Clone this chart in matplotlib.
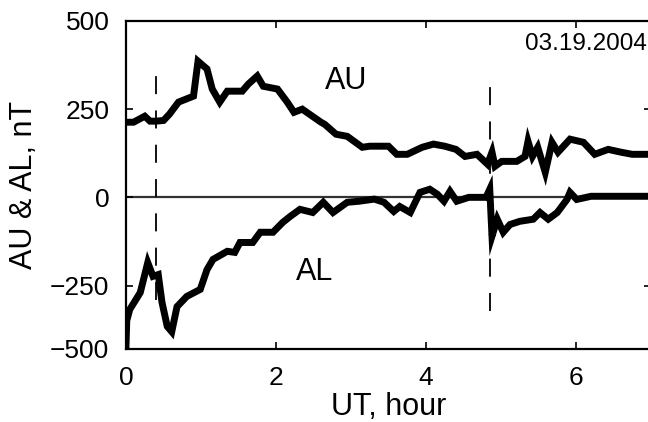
import matplotlib
matplotlib.use("Agg")
import matplotlib.pyplot as plt

plt.rcParams['font.family'] = ['Liberation Sans', 'DejaVu Sans']

# AU index (nT) vs UT (hours)
au_t = [0.00, 0.10, 0.25, 0.32, 0.40, 0.50, 0.58, 0.70, 0.90, 0.96, 1.08, 1.15,
        1.25, 1.35, 1.55, 1.63, 1.75, 1.83, 2.02, 2.15, 2.24, 2.35, 2.60, 2.65,
        2.80, 2.95, 3.15, 3.25, 3.50, 3.61, 3.75, 3.95, 4.10, 4.25, 4.40, 4.52,
        4.68, 4.82, 4.88, 4.92, 5.01, 5.21, 5.32, 5.36, 5.42, 5.49, 5.59, 5.68,
        5.76, 5.92, 6.10, 6.25, 6.43, 6.60, 6.75, 7.00]
au_v = [213, 213, 230, 216, 216, 218, 236, 270, 287, 386, 364, 307, 270, 301,
        301, 321, 344, 315, 307, 270, 241, 250, 213, 207, 179, 173, 142, 145,
        145, 122, 122, 142, 151, 145, 136, 116, 122, 94, 128, 88, 102, 102, 116,
        159, 116, 142, 71, 156, 128, 165, 156, 122, 136, 128, 122, 122]

# AL index (nT)
al_t = [0.00, 0.01, 0.05, 0.19, 0.29, 0.36, 0.43, 0.48, 0.55, 0.61, 0.68, 0.81,
        0.99, 1.08, 1.16, 1.35, 1.45, 1.52, 1.69, 1.79, 1.96, 2.09, 2.19, 2.32,
        2.49, 2.63, 2.76, 2.95, 3.11, 3.31, 3.44, 3.57, 3.65, 3.79, 3.92, 4.05,
        4.15, 4.24, 4.32, 4.41, 4.57, 4.80, 4.85, 4.88, 4.95, 5.03, 5.12, 5.25,
        5.43, 5.52, 5.63, 5.75, 5.88, 5.92, 6.01, 6.20, 7.00]
al_v = [-420, -350, -318, -270, -185, -224, -219, -298, -366, -381, -310, -281,
        -261, -205, -176, -153, -156, -128, -128, -99, -99, -71, -54, -34, -43,
        -14, -43, -14, -11, -5, -14, -40, -26, -43, 14, 23, 9, -11, 17, -11, 0,
        0, 23, -110, -62, -99, -77, -68, -62, -43, -62, -43, -6, 14, -6, 3, 3]

onsets = [0.40, 4.85]
onset_spans = [(-290, 384), (-321, 347)]

fig = plt.figure(figsize=(6.48, 4.22), dpi=100)
ax = fig.add_axes([126 / 648, 73 / 422, 525 / 648, 328 / 422])

ax.axhline(0, color='#333333', lw=1.6, zorder=1)
ax.plot(au_t, au_v, color='black', lw=5, solid_joinstyle='miter', zorder=3)
ax.plot(al_t, al_v, color='black', lw=5, solid_joinstyle='miter', zorder=3)

for t, (y0, y1) in zip(onsets, onset_spans):
    ln, = ax.plot([t, t], [y0, y1], color='black', lw=1.3, zorder=2)
    ln.set_dashes((10, 9))

ax.text(2.93, 330, 'AU', fontsize=22, ha='center', va='center')
ax.text(2.52, -213, 'AL', fontsize=22, ha='center', va='center')
ax.text(0.993, 0.93, '03.19.2004', transform=ax.transAxes, fontsize=17.5,
        ha='right', va='center')

ax.set_xlim(0, 7)
ax.set_ylim(-430, 500)
ax.set_xticks([0, 2, 4, 6])
ax.set_yticks([-430, -250, 0, 250, 500])
ax.set_yticklabels(['\u2212500', '\u2212250', '0', '250', '500'])
ax.tick_params(direction='in', length=5, width=1.2, labelsize=19,
               top=True, right=True, pad=12)
for s in ax.spines.values():
    s.set_linewidth(1.6)

ax.set_xlabel('UT, hour', fontsize=22, labelpad=2)
ax.set_ylabel('AU & AL, nT', fontsize=22, labelpad=8)

fig.savefig('out.png', dpi=100)
